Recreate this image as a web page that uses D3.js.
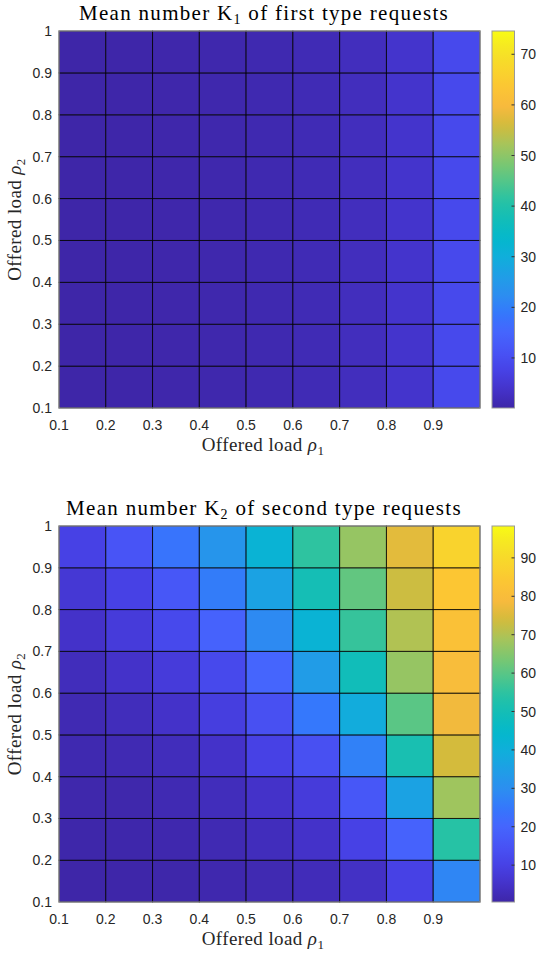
<!DOCTYPE html>
<html>
<head>
<meta charset="utf-8">
<script src="https://cdn.jsdelivr.net/npm/d3@7"></script>
<style>
body { margin: 0; background: #fff; }
text { fill: #262626; }
</style>
</head>
<body>
<script>
// cell lower-left corners (pcolor drops the last row/column at 1.0)
var rho1 = [0.1, 0.2, 0.3, 0.4, 0.5, 0.6, 0.7, 0.8, 0.9];
var rho2 = [0.1, 0.2, 0.3, 0.4, 0.5, 0.6, 0.7, 0.8, 0.9];
var xTicks = [0.1, 0.2, 0.3, 0.4, 0.5, 0.6, 0.7, 0.8, 0.9];
var yTicks = [0.1, 0.2, 0.3, 0.4, 0.5, 0.6, 0.7, 0.8, 0.9, 1];

// K1, one row per rho2 (0.1 -> 0.9), columns rho1 0.1 -> 0.9
var k1Rows = [
  [0.11, 0.25, 0.43, 0.67, 1.0, 1.5, 2.3, 4.0, 9.0],
  [0.11, 0.25, 0.43, 0.67, 1.0, 1.5, 2.3, 4.0, 9.0],
  [0.11, 0.25, 0.43, 0.67, 1.0, 1.5, 2.3, 4.0, 9.0],
  [0.11, 0.25, 0.43, 0.67, 1.0, 1.5, 2.3, 4.0, 9.0],
  [0.11, 0.25, 0.43, 0.67, 1.0, 1.5, 2.3, 4.0, 9.0],
  [0.11, 0.25, 0.43, 0.67, 1.0, 1.5, 2.3, 4.0, 9.0],
  [0.11, 0.25, 0.43, 0.67, 1.0, 1.5, 2.3, 4.0, 9.0],
  [0.11, 0.25, 0.43, 0.67, 1.0, 1.5, 2.3, 4.0, 9.0],
  [0.11, 0.25, 0.43, 0.67, 1.0, 1.5, 2.3, 4.0, 9.0]
];
var k1Lim = [0.11, 74.6];
var k1Ticks = [10, 20, 30, 40, 50, 60, 70];

// K2, one row per rho2 (0.1 -> 0.9)
var k2Rows = [
  [0.4, 0.5, 0.7, 1.2, 1.8, 2.8, 4.5, 10, 28],
  [0.7, 0.8, 1.2, 2.0, 3.2, 5.0, 10, 19, 54],
  [1.0, 1.0, 2.0, 3.0, 5.0, 8.0, 16, 36, 68],
  [1.5, 2.0, 3.0, 5.0, 10, 14, 27, 51, 74],
  [2.0, 3.0, 5.0, 9.0, 14, 25, 39, 60, 78],
  [3.0, 5.0, 8.0, 12, 20, 34, 49, 67, 80],
  [5.0, 8.0, 12, 19, 29, 42, 56, 70, 82],
  [7.0, 10, 16, 26, 36, 50, 61, 73, 84],
  [10, 15, 24, 32, 42, 55, 67, 76, 88]
];
var k2Lim = [0.4, 98.3];
var k2Ticks = [10, 20, 30, 40, 50, 60, 70, 80, 90];

// parula colormap (approximate)
var parulaStops = [0, 0.05, 0.1, 0.15, 0.2, 0.25, 0.3, 0.35, 0.4, 0.45, 0.5, 0.55, 0.6, 0.65, 0.7, 0.75, 0.8, 0.85, 0.9, 0.95, 1];
var parulaColors = ["#3e26a8", "#4433cb", "#4742e6", "#4854f6", "#4565fd", "#3577fc", "#2c8ef0",
  "#1f9ee6", "#10aedb", "#04b8cc", "#12bdb8", "#27c2a4", "#52c68a", "#7dc770", "#a7c45a",
  "#d3bb3c", "#f7ba3d", "#fcc534", "#f9d52c", "#f5e524", "#f9fb15"];
var parula = d3.scaleLinear().domain(parulaStops).range(parulaColors).interpolate(d3.interpolateRgb);

var W = 537, H = 953;
var svg = d3.select("body").append("svg")
    .attr("width", W)
    .attr("height", H);

var defs = svg.append("defs");
var grad = defs.append("linearGradient")
    .attr("id", "parulaGrad")
    .attr("x1", 0).attr("y1", 1).attr("x2", 0).attr("y2", 0);
grad.selectAll("stop")
    .data(d3.range(0, 1.0001, 0.02))
  .enter().append("stop")
    .attr("offset", function(d) { return d; })
    .attr("stop-color", function(d) { return parula(d); });

var left = 59, right = 480, cbX = 492, cbW = 22.5;
var sans = "Liberation Sans, Arial, sans-serif",
    serif = "Liberation Serif, Times New Roman, serif";

function drawPanel(top, bottom, rows, lim, cTicks, title) {
  var x = d3.scaleLinear().domain([0.1, 1.0]).range([left, right]);
  var y = d3.scaleLinear().domain([0.1, 1.0]).range([bottom, top]);
  var c = d3.scaleLinear().domain(lim).range([0, 1]).clamp(true);
  var step = 0.1;

  var g = svg.append("g");

  // cells
  rows.forEach(function(row, j) {
    g.selectAll(null)
        .data(row)
      .enter().append("rect")
        .attr("x", function(d, i) { return x(rho1[i]); })
        .attr("y", y(rho2[j] + step))
        .attr("width", function(d, i) { return x(rho1[i] + step) - x(rho1[i]); })
        .attr("height", y(rho2[j]) - y(rho2[j] + step))
        .attr("fill", function(d) { return parula(c(d)); })
        .attr("stroke", "#000")
        .attr("stroke-opacity", 0.8)
        .attr("stroke-width", 1);
  });

  // axes box
  g.append("rect")
      .attr("x", left).attr("y", top)
      .attr("width", right - left).attr("height", bottom - top)
      .attr("fill", "none")
      .attr("stroke", "#999")
      .attr("stroke-width", 1);

  // x tick labels
  g.selectAll(".xt")
      .data(xTicks)
    .enter().append("text")
      .attr("class", "xt")
      .attr("x", function(d) { return x(d); })
      .attr("y", bottom + 21.5)
      .attr("text-anchor", "middle")
      .style("font-family", sans)
      .style("font-size", "14px")
      .text(function(d) { return d3.format(".1f")(d); });

  // y tick labels
  g.selectAll(".yt")
      .data(yTicks)
    .enter().append("text")
      .attr("class", "yt")
      .attr("x", left - 7)
      .attr("y", function(d) { return y(d) + 5; })
      .attr("text-anchor", "end")
      .style("font-family", sans)
      .style("font-size", "14px")
      .text(function(d) { return d === 1 ? "1" : d3.format(".1f")(d); });

  // title
  var t = g.append("text")
      .attr("x", 264)
      .attr("y", top - 11)
      .attr("text-anchor", "middle")
      .style("font-family", serif)
      .style("font-size", "21px")
      .style("letter-spacing", "1.3px")
      .style("fill", "#000");
  t.append("tspan").text(title[0]);
  t.append("tspan").attr("dy", 4).style("font-size", "14px").text(title[1]);
  t.append("tspan").attr("dy", -4).text(title[2]);

  // x label
  var xl = g.append("text")
      .attr("x", 263)
      .attr("y", bottom + 43)
      .attr("text-anchor", "middle")
      .style("font-family", serif)
      .style("font-size", "19px")
      .style("letter-spacing", "0.4px");
  xl.append("tspan").text("Offered load ");
  xl.append("tspan").style("font-style", "italic").text("ρ");
  xl.append("tspan").attr("dy", 4).style("font-size", "13px").text("1");

  // y label
  var yl = g.append("text")
      .attr("transform", "translate(21," + ((top + bottom) / 2) + ") rotate(-90)")
      .attr("text-anchor", "middle")
      .style("font-family", serif)
      .style("font-size", "19px")
      .style("letter-spacing", "0.4px");
  yl.append("tspan").text("Offered load ");
  yl.append("tspan").style("font-style", "italic").text("ρ");
  yl.append("tspan").attr("dy", 4).style("font-size", "13px").text("2");

  // colorbar
  var cy = d3.scaleLinear().domain(lim).range([bottom, top]);
  g.append("rect")
      .attr("x", cbX).attr("y", top)
      .attr("width", cbW).attr("height", bottom - top)
      .attr("fill", "url(#parulaGrad)")
      .attr("stroke", "#999")
      .attr("stroke-width", 1);

  g.selectAll(".ct")
      .data(cTicks)
    .enter().append("line")
      .attr("x1", cbX + cbW - 3).attr("x2", cbX + cbW)
      .attr("y1", function(d) { return cy(d); })
      .attr("y2", function(d) { return cy(d); })
      .attr("stroke", "#333")
      .attr("stroke-width", 1);

  g.selectAll(".cl")
      .data(cTicks)
    .enter().append("text")
      .attr("x", cbX + cbW + 6)
      .attr("y", function(d) { return cy(d) + 5; })
      .style("font-family", sans)
      .style("font-size", "14px")
      .text(function(d) { return d; });
}

drawPanel(31, 408, k1Rows, k1Lim, k1Ticks, ["Mean number K", "1", " of first type requests"]);
drawPanel(526, 902, k2Rows, k2Lim, k2Ticks, ["Mean number K", "2", " of second type requests"]);
</script>
</body>
</html>
